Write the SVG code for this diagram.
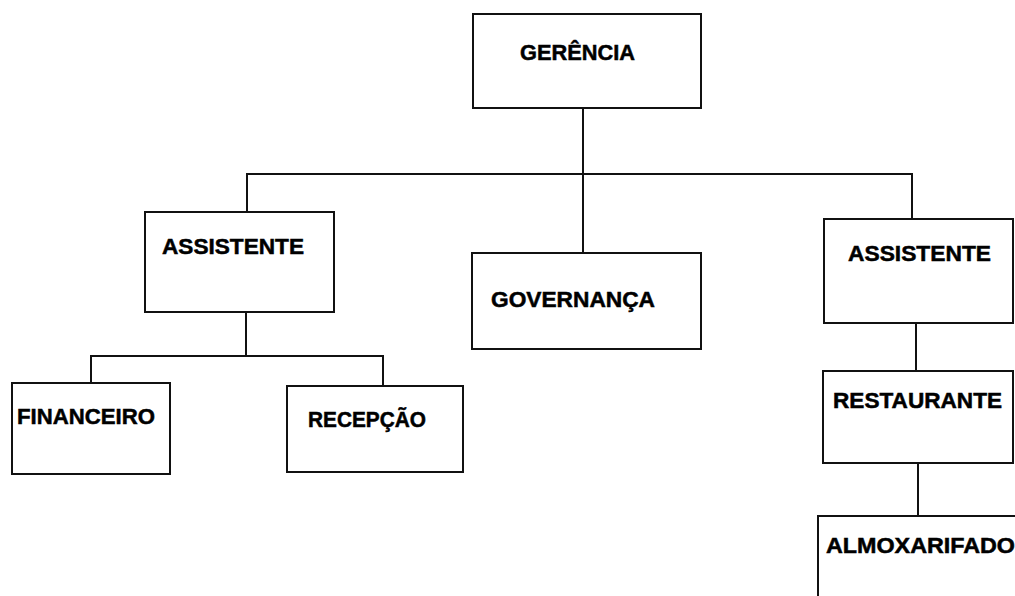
<svg xmlns="http://www.w3.org/2000/svg" width="1015" height="596" viewBox="0 0 1015 596">
<style>
.box{fill:#fff;stroke:#111;stroke-width:2}
.ln{fill:none;stroke:#111;stroke-width:2}
.t{font-family:"Liberation Sans",Arial,sans-serif;font-weight:bold;font-size:22px;fill:#000;stroke:#000;stroke-width:0.5}
</style>
<rect width="1015" height="596" fill="#fff"/>
<g id="connectors">
<path class="ln" d="M583,108 V253"/>
<path class="ln" d="M247,212 V174 H912 V219"/>
<path class="ln" d="M246,312 V356"/>
<path class="ln" d="M91,383 V356 H383 V386"/>
<path class="ln" d="M916,323 V371"/>
<path class="ln" d="M918,463 V516"/>
</g>
<g id="gerencia"><rect class="box" x="473" y="14" width="228" height="94"/><text class="t" x="520" y="60" textLength="115" lengthAdjust="spacingAndGlyphs">GERÊNCIA</text></g>
<g id="assistente1"><rect class="box" x="145" y="212" width="189" height="100"/><text class="t" x="162" y="254" textLength="142" lengthAdjust="spacingAndGlyphs">ASSISTENTE</text></g>
<g id="governanca"><rect class="box" x="472" y="253" width="229" height="96"/><text class="t" x="491" y="307" textLength="164" lengthAdjust="spacingAndGlyphs">GOVERNANÇA</text></g>
<g id="assistente2"><rect class="box" x="824" y="219" width="189" height="104"/><text class="t" x="848" y="261" textLength="143" lengthAdjust="spacingAndGlyphs">ASSISTENTE</text></g>
<g id="financeiro"><rect class="box" x="12" y="383" width="158" height="91"/><text class="t" x="17" y="424" textLength="138" lengthAdjust="spacingAndGlyphs">FINANCEIRO</text></g>
<g id="recepcao"><rect class="box" x="287" y="386" width="176" height="86"/><text class="t" x="308" y="427" textLength="118" lengthAdjust="spacingAndGlyphs">RECEPÇÃO</text></g>
<g id="restaurante"><rect class="box" x="823" y="371" width="190" height="92"/><text class="t" x="833" y="408" textLength="169" lengthAdjust="spacingAndGlyphs">RESTAURANTE</text></g>
<g id="almoxarifado"><rect class="box" x="818" y="516" width="210" height="100"/><text class="t" x="826" y="553" textLength="189" lengthAdjust="spacingAndGlyphs">ALMOXARIFADO</text></g>
</svg>
